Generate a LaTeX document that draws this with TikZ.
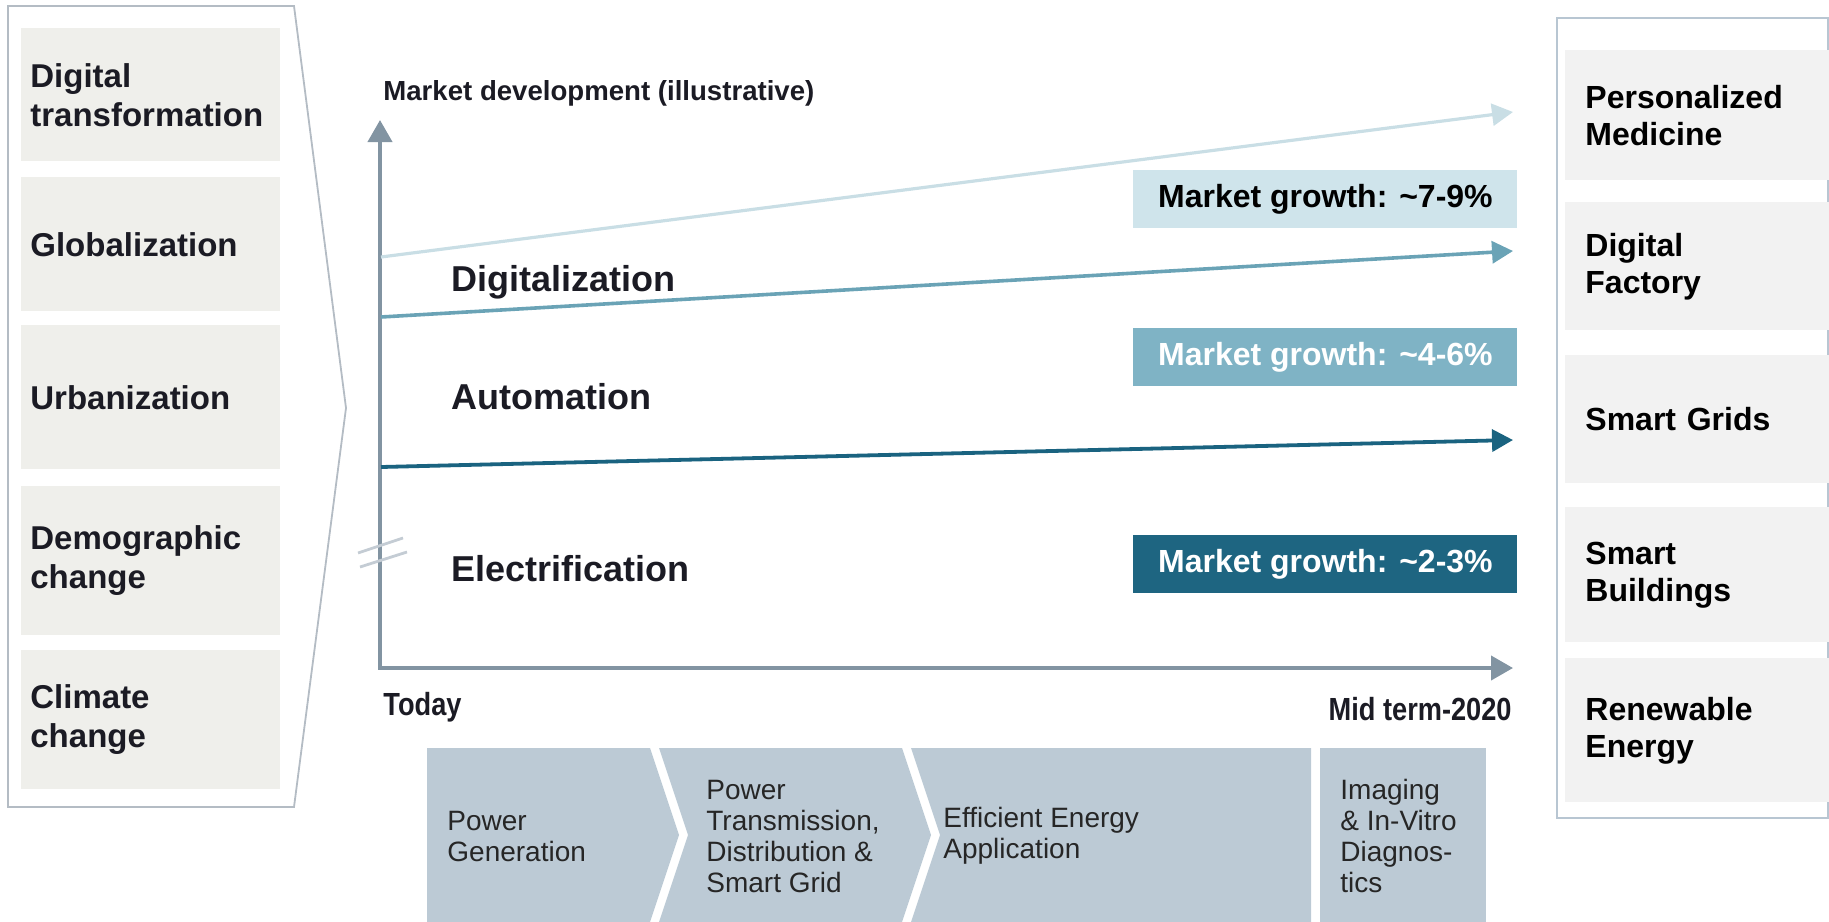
\documentclass[tikz,border=0pt]{standalone}
\usepackage{fontspec}
\setmainfont{Liberation Sans}
\newfontfamily\narrowfont[FakeStretch=0.85]{Liberation Sans}
\usetikzlibrary{arrows.meta}
\definecolor{framecol}{HTML}{B4BCC4}
\definecolor{rframecol}{HTML}{B8C6D2}
\definecolor{lfill}{HTML}{EFEFEB}
\definecolor{rfill}{HTML}{F2F2F2}
\definecolor{axiscol}{HTML}{8294A2}
\definecolor{lightline}{HTML}{C9DEE5}
\definecolor{lightbox}{HTML}{CFE4EB}
\definecolor{midline}{HTML}{6AA3B6}
\definecolor{midbox}{HTML}{7FB3C5}
\definecolor{darkline}{HTML}{1A6380}
\definecolor{darkbox}{HTML}{1E6581}
\definecolor{chevfill}{HTML}{BCCAD5}
\definecolor{breakcol}{HTML}{C4CCD4}
\definecolor{txtdark}{HTML}{1B1B24}
\begin{document}
\begin{tikzpicture}[x=0.5pt,y=-0.5pt,
  lbox/.style={fill=lfill, anchor=north west, minimum width=129.5pt, text width=120.5pt,
    inner xsep=4.5pt, inner ysep=0pt, align=left, text=txtdark,
    font=\fontsize{16.5}{19.5}\selectfont\bfseries},
  rbox/.style={fill=rfill, anchor=north west, minimum width=128.5pt, text width=118.5pt,
    inner xsep=10pt, inner ysep=0pt, align=left, text=black,
    font=\fontsize{16}{18.5}\selectfont\bfseries},
  growth/.style={anchor=north west, minimum width=192pt, minimum height=29pt, inner sep=0pt,
    font=\fontsize{16}{18}\selectfont\bfseries},
  trend/.style={anchor=west, inner sep=0pt, text=txtdark, font=\fontsize{18}{20}\selectfont\bfseries},
  axlabel/.style={inner sep=0pt, text=txtdark, font=\narrowfont\fontsize{16}{18}\selectfont\bfseries},
  chevtext/.style={anchor=west, inner sep=0pt, align=left, text=black!85,
    font=\fontsize{14}{15.5}\selectfont},
  tip/.style={-{Triangle[length=10.5pt,width=11pt]}},
]
\useasboundingbox (0,0) rectangle (1829,921);

% ---------- left panel ----------
\draw[framecol, line width=0.9pt] (8,6) -- (294,6) -- (346,408) -- (294,807) -- (8,807) -- cycle;
\node[lbox, minimum height=66.5pt] (d1) at (21,28) {Digital\\transformation};
\node[lbox, minimum height=67pt] (d2) at (21,177) {Globalization};
\node[lbox, minimum height=72pt] (d3) at (21,325) {Urbanization};
\node[lbox, minimum height=74.5pt] (d4) at (21,486) {Demographic\\change};
\node[lbox, minimum height=69.5pt] (d5) at (21,650) {Climate\\change};

% ---------- right panel ----------
\draw[rframecol, line width=1pt] (1557,18) rectangle (1828,818);
\node[rbox, minimum height=65pt] (r1) at (1565,50) {Personalized\\Medicine};
\node[rbox, minimum height=64pt] (r2) at (1565,202) {Digital\\Factory};
\node[rbox, minimum height=64pt] (r3) at (1565,355) {Smart Grids};
\node[rbox, minimum height=67.5pt] (r4) at (1565,507) {Smart\\Buildings};
\node[rbox, minimum height=72pt] (r5) at (1565,658) {Renewable\\Energy};

% ---------- chart ----------
\node[inner sep=0pt, anchor=west, text=txtdark, font=\fontsize{13.8}{15}\selectfont\bfseries]
  (title) at (383,93) {Market development (illustrative)};

\coordinate (ytip) at (380,120);
\coordinate (orig) at (380,668);
\coordinate (xtip) at (1513,668);
\draw[axiscol, line width=2pt, {Triangle[length=11pt,width=12pt]}-{Triangle[length=11pt,width=12pt]}]
  (ytip) -- (orig) -- (xtip);

% axis break marks
\coordinate (b1a) at (358,553); \coordinate (b1b) at (403,538);
\coordinate (b2a) at (360,567); \coordinate (b2b) at (407,552);
\draw[breakcol, line width=1.4pt] (b1a) -- (b1b);
\draw[breakcol, line width=1.4pt] (b2a) -- (b2b);

% trend arrows
\coordinate (l1s) at (381,257); \coordinate (l1e) at (1513,112);
\coordinate (l2s) at (381,317); \coordinate (l2e) at (1513,251);
\coordinate (l3s) at (381,467); \coordinate (l3e) at (1513,440);
\draw[lightline, line width=1.6pt, tip] (l1s) -- (l1e);
\draw[midline, line width=1.8pt, tip] (l2s) -- (l2e);
\draw[darkline, line width=1.9pt, tip] (l3s) -- (l3e);

\node[trend] (digi) at (451,282) {Digitalization};
\node[trend] (auto) at (451,397) {Automation};
\node[trend] (elec) at (451,569) {Electrification};

\node[growth, fill=lightbox, text=black] (g1) at (1133,170) {Market growth: \textasciitilde7-9\%};
\node[growth, fill=midbox, text=white] (g2) at (1133,328) {Market growth: \textasciitilde4-6\%};
\node[growth, fill=darkbox, text=white] (g3) at (1133,535) {Market growth: \textasciitilde2-3\%};

\node[axlabel, anchor=west] (today) at (383,707) {Today};
\node[axlabel, anchor=east] (mid) at (1512,709) {Mid term-2020};

% ---------- value chain chevrons ----------
\fill[chevfill] (427,748) -- (650,748) -- (679,835) -- (650,922) -- (427,922) -- cycle;
\fill[chevfill] (659,748) -- (902,748) -- (931,835) -- (902,922) -- (659,922) -- (688,835) -- cycle;
\fill[chevfill] (911,748) -- (1311,748) -- (1311,922) -- (911,922) -- (940,835) -- cycle;
\fill[chevfill] (1320,748) rectangle (1486,922);

\node[chevtext] (c1) at (447,836) {Power\\Generation};
\node[chevtext] (c2) at (706,836) {Power\\Transmission,\\Distribution \&\\Smart Grid};
\node[chevtext] (c3) at (943,836) {Efficient Energy\\Application};
\node[chevtext] (c4) at (1340,836) {Imaging\\\& In-Vitro\\Diagnos-\\tics};
\end{tikzpicture}
\end{document}
